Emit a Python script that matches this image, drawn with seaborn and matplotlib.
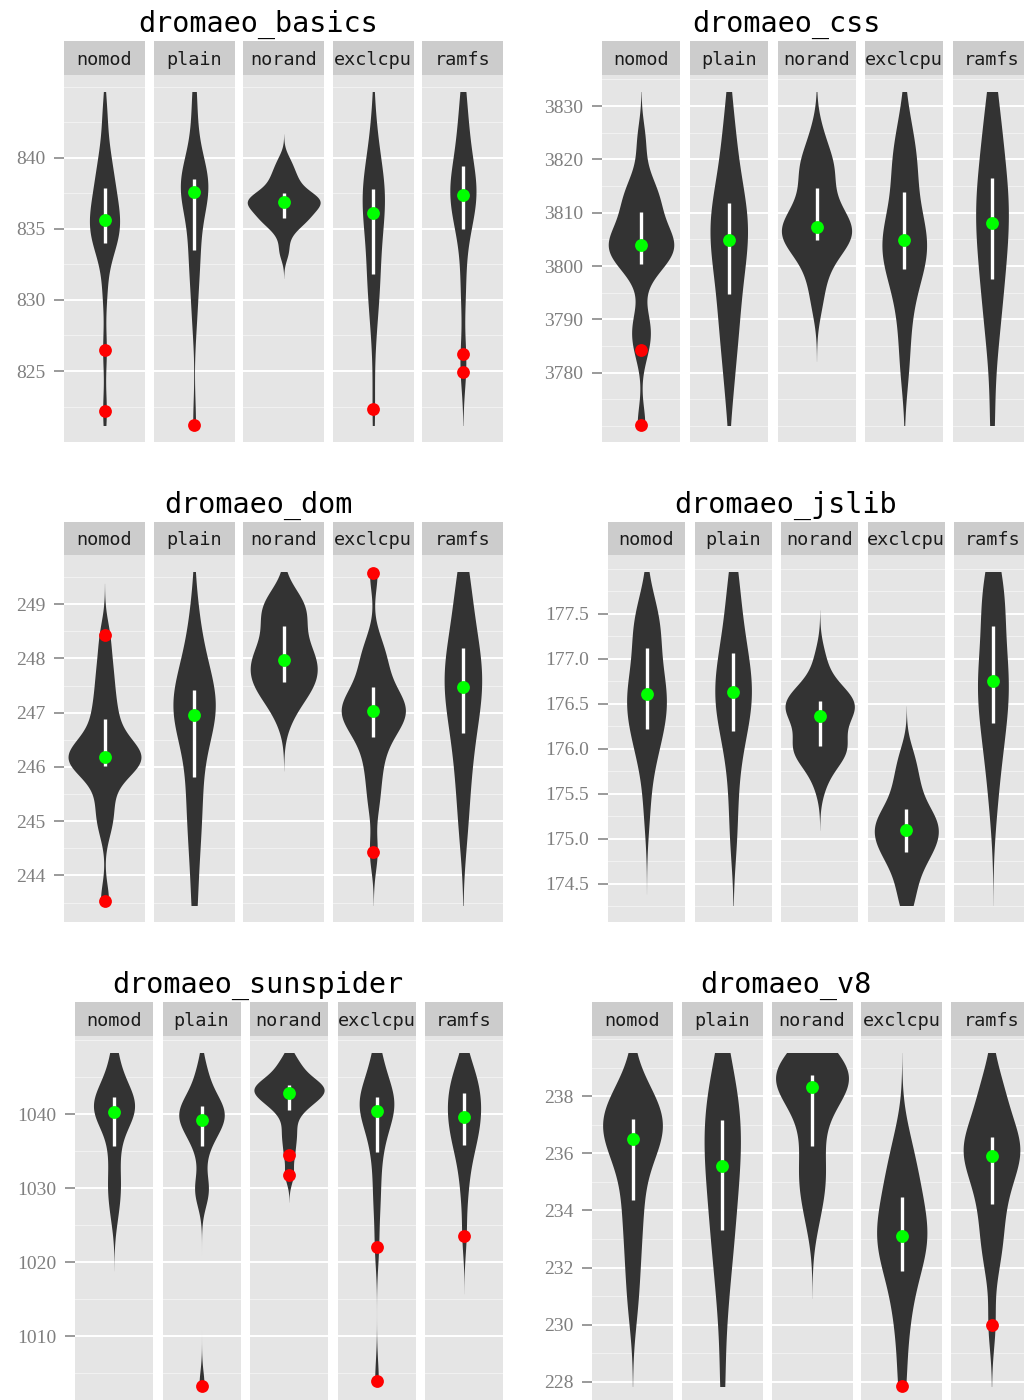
"""
Dromaeo benchmark spread per kernel configuration: one violin chart per
benchmark, faceted by configuration, drawn in a ggplot-like grey style.
"""

import numpy as np
import pandas as pd
import matplotlib
matplotlib.use("Agg")
import matplotlib.pyplot as plt
from matplotlib.ticker import FixedLocator, FormatStrFormatter, MultipleLocator
from matplotlib.transforms import Bbox, TransformedBbox
import seaborn as sns

configs = ["nomod", "plain", "norand", "exclcpu", "ramfs"]

# ── per-run scores ──────────────────────────────────────────────────────
basics = {
    "nomod":   [822.16, 826.46, 830.5, 832.8, 833.8, 834.1, 834.5, 834.9, 835.25, 835.5,
                835.8, 836.3, 836.8, 837.3, 837.7, 838.5, 839.0, 839.8, 841.0, 843.2],
    "plain":   [821.2, 828.5, 830.5, 832.0, 833.2, 833.6, 835.0, 836.3, 836.9, 837.3,
                837.84, 838.0, 838.2, 838.3, 838.4, 838.8, 839.3, 840.5, 842.5, 844.65],
    "norand":  [833.4, 834.6, 835.3, 835.6, 835.7, 835.83, 836.2, 836.5, 836.7, 836.8,
                836.96, 837.0, 837.1, 837.2, 837.4, 837.8, 838.2, 838.6, 839.1, 839.8],
    "exclcpu": [822.3, 827.5, 829.5, 830.6, 831.4, 831.93, 833.0, 834.2, 835.0, 835.8,
                836.4, 836.8, 837.1, 837.4, 837.7, 838.2, 838.8, 839.5, 840.6, 842.5],
    "ramfs":   [824.9, 826.2, 830.0, 832.3, 834.3, 835.23, 835.8, 836.4, 836.9, 837.2,
                837.6, 838.0, 838.4, 838.9, 839.2, 840.2, 840.9, 841.8, 843.0, 844.65],
}
css = {
    "nomod":   [3770.2, 3784.3, 3787.5, 3790.0, 3798.5, 3801.1, 3801.8, 3802.5, 3803.2, 3803.6,
                3804.2, 3805.0, 3806.2, 3807.5, 3809.6, 3811.8, 3812.6, 3813.8, 3816.5, 3823.5],
    "plain":   [3776.0, 3782.5, 3786.5, 3789.5, 3792.5, 3795.5, 3798.0, 3800.5, 3802.5, 3804.0,
                3805.6, 3807.0, 3808.5, 3810.0, 3811.2, 3813.5, 3816.0, 3819.5, 3823.5, 3829.0],
    "norand":  [3793.0, 3797.5, 3800.5, 3802.8, 3804.3, 3804.97, 3805.5, 3806.2, 3806.8, 3807.1,
                3807.7, 3809.0, 3810.5, 3812.0, 3813.8, 3817.0, 3818.0, 3819.2, 3821.0, 3825.0],
    "exclcpu": [3780.0, 3786.0, 3791.5, 3795.0, 3798.0, 3799.9, 3801.0, 3802.3, 3803.5, 3804.3,
                3805.3, 3806.8, 3808.5, 3810.5, 3812.8, 3817.0, 3818.5, 3820.5, 3823.0, 3827.5],
    "ramfs":   [3770.4, 3783.0, 3789.0, 3791.5, 3795.5, 3798.2, 3800.5, 3803.0, 3805.0, 3807.0,
                3809.2, 3811.0, 3812.5, 3814.0, 3815.5, 3819.5, 3821.5, 3824.5, 3828.0, 3832.7],
}
dom = {
    "nomod":   [243.53, 244.9, 245.2, 245.55, 245.95, 246.05, 246.08, 246.12, 246.15, 246.17,
                246.21, 246.3, 246.42, 246.55, 246.85, 247.0, 247.3, 247.6, 247.95, 248.43],
    "plain":   [243.45, 244.3, 244.8, 245.2, 245.6, 245.88, 246.4, 246.65, 246.8, 246.9,
                247.0, 247.1, 247.2, 247.28, 247.36, 247.56, 247.75, 248.0, 248.3, 248.9],
    "norand":  [246.9, 247.2, 247.35, 247.45, 247.52, 247.57, 247.7, 247.82, 247.9, 247.95,
                248.01, 248.1, 248.25, 248.4, 248.55, 248.75, 248.85, 248.95, 249.05, 249.15],
    "exclcpu": [244.43, 245.3, 245.75, 246.1, 246.4, 246.6, 246.75, 246.85, 246.95, 247.0,
                247.06, 247.12, 247.2, 247.3, 247.4, 247.68, 247.85, 248.05, 248.3, 249.58],
    "ramfs":   [244.7, 245.3, 245.75, 246.1, 246.45, 246.69, 246.9, 247.1, 247.3, 247.4,
                247.54, 247.7, 247.85, 248.0, 248.15, 248.35, 248.6, 248.9, 249.25, 249.6],
}
jslib = {
    "nomod":   [175.3, 175.75, 175.95, 176.1, 176.2, 176.23, 176.38, 176.46, 176.52, 176.58,
                176.64, 176.7, 176.8, 176.92, 177.08, 177.25, 177.3, 177.4, 177.5, 177.62],
    "plain":   [174.95, 175.35, 175.7, 175.95, 176.15, 176.22, 176.35, 176.45, 176.53, 176.6,
                176.66, 176.75, 176.85, 176.95, 177.04, 177.16, 177.3, 177.5, 177.7, 177.97],
    "norand":  [175.62, 175.85, 175.9, 175.94, 175.98, 176.05, 176.08, 176.12, 176.28, 176.33,
                176.39, 176.44, 176.47, 176.5, 176.52, 176.56, 176.6, 176.66, 176.78, 177.02],
    "exclcpu": [174.26, 174.45, 174.6, 174.72, 174.8, 174.87, 174.92, 174.97, 175.02, 175.07,
                175.13, 175.17, 175.21, 175.26, 175.3, 175.42, 175.52, 175.64, 175.78, 175.95],
    "ramfs":   [175.3, 175.65, 175.9, 176.05, 176.2, 176.31, 176.45, 176.58, 176.68, 176.72,
                176.78, 176.9, 177.05, 177.2, 177.32, 177.52, 177.65, 177.75, 177.85, 177.97],
}
sunspider = {
    "nomod":   [1026.2, 1028.8, 1030.2, 1031.8, 1034.5, 1036.1, 1038.6, 1039.3, 1039.8, 1040.1,
                1040.5, 1040.9, 1041.3, 1041.7, 1042.2, 1042.8, 1043.4, 1044.3, 1045.8, 1048.34],
    "plain":   [1003.28, 1028.5, 1029.8, 1031.0, 1034.2, 1036.3, 1037.0, 1037.8, 1038.5, 1038.9,
                1039.5, 1039.9, 1040.3, 1040.6, 1040.9, 1041.6, 1042.3, 1043.2, 1044.5, 1046.5],
    "norand":  [1031.85, 1034.55, 1036.5, 1038.0, 1039.8, 1040.9, 1041.4, 1041.9, 1042.3, 1042.75,
                1043.0, 1043.3, 1043.55, 1043.75, 1043.9, 1044.3, 1044.9, 1045.6, 1046.4, 1047.6],
    "exclcpu": [1003.96, 1021.99, 1027.0, 1030.0, 1033.0, 1035.5, 1037.0, 1038.3, 1039.3, 1040.0,
                1040.9, 1041.2, 1041.6, 1041.9, 1042.2, 1042.9, 1043.8, 1045.0, 1046.5, 1048.34],
    "ramfs":   [1023.55, 1028.5, 1031.5, 1033.5, 1035.3, 1035.98, 1037.0, 1037.8, 1038.6, 1039.3,
                1040.0, 1040.7, 1041.4, 1042.0, 1042.6, 1043.7, 1044.3, 1045.0, 1045.9, 1047.5],
}
v8 = {
    "nomod":   [230.5, 231.6, 232.5, 233.3, 234.0, 234.5, 235.2, 235.9, 236.2, 236.4,
                236.62, 236.8, 236.95, 237.05, 237.15, 237.4, 237.5, 237.7, 238.0, 238.4],
    "plain":   [227.9, 230.3, 231.5, 232.3, 233.0, 233.4, 233.9, 234.5, 235.0, 235.35,
                235.75, 236.1, 236.45, 236.75, 237.0, 237.6, 237.85, 238.2, 238.6, 239.3],
    "norand":  [233.6, 234.4, 234.9, 235.3, 235.7, 236.42, 237.0, 237.6, 238.0, 238.2,
                238.44, 238.55, 238.62, 238.67, 238.7, 238.8, 238.95, 239.15, 239.35, 239.52],
    "exclcpu": [227.86, 229.3, 230.3, 231.0, 231.5, 232.0, 232.28, 232.56, 232.84, 233.0,
                233.24, 233.5, 233.78, 234.06, 234.34, 234.8, 235.1, 235.5, 236.0, 236.7],
    "ramfs":   [230.0, 231.9, 232.7, 233.2, 233.75, 234.38, 234.85, 235.0, 235.5, 235.7,
                236.08, 236.2, 236.28, 236.34, 236.37, 237.1, 237.35, 237.7, 238.2, 238.8],
}

benchmarks = ["dromaeo_basics", "dromaeo_css", "dromaeo_dom",
              "dromaeo_jslib", "dromaeo_sunspider", "dromaeo_v8"]
samples = [basics, css, dom, jslib, sunspider, v8]
yticks = [
    [825, 830, 835, 840],
    [3780, 3790, 3800, 3810, 3820, 3830],
    [244, 245, 246, 247, 248, 249],
    [174.5, 175.0, 175.5, 176.0, 176.5, 177.0, 177.5],
    [1010, 1020, 1030, 1040],
    [228, 230, 232, 234, 236, 238],
]
tick_fmt = ["%d", "%d", "%d", "%.1f", "%d", "%d"]

# ── layout, in output pixels ────────────────────────────────────────────
W, H = 1024, 1400
# first panel left edge, panel width, panel pitch
cols = [(64, 81, 89.6), (602, 78, 87.75), (64, 81, 89.6),
        (608, 77, 86.6), (75, 78, 87.5), (592, 81, 89.75)]
# strip top, panel top, panel bottom
rows = [(41, 75, 441.7), (522, 555, 922), (1002, 1036, 1402.5)]
title_x = [258, 786]

PANEL = "#E5E5E5"
STRIP = "#CCCCCC"
VIOLIN = "#333333"
GREY50 = "#7F7F7F"
MONO = "DejaVu Sans Mono"

plt.rcParams["font.family"] = ["Liberation Serif", "DejaVu Serif"]


def nrd0(kde):
    """R's default bandwidth (bw.nrd0), expressed as a gaussian_kde factor."""
    x = kde.dataset.ravel()
    sd = x.std(ddof=1)
    q1, q3 = np.percentile(x, [25, 75])
    lo = min(sd, (q3 - q1) / 1.34)
    return 0.9 * lo * len(x) ** -0.2 / sd


def px_axes(fig, left, top, width, height):
    return fig.add_axes([left / W, 1 - (top + height) / H, width / W, height / H])


fig = plt.figure(figsize=(W / 100, H / 100), dpi=100)

for k, (name, data) in enumerate(zip(benchmarks, samples)):
    row, col = divmod(k, 2)
    strip_top, panel_top, panel_bottom = rows[row]
    x0, pw, pitch = cols[k]

    df = pd.DataFrame([(i, v) for i, c in enumerate(configs) for v in data[c]],
                      columns=["pos", "value"])
    lo, hi = df["value"].min(), df["value"].max()
    pad = 0.05 * (hi - lo)
    step = yticks[k][1] - yticks[k][0]

    fig.text(title_x[col] / W, 1 - (strip_top - 9.5) / H, name, ha="center",
             va="baseline", family=MONO, fontsize=20.5, color="black")

    for i, cfg in enumerate(configs):
        ax = px_axes(fig, x0 + i * pitch, panel_top, pw, panel_bottom - panel_top)
        ax.set_facecolor(PANEL)

        # every violin goes on every facet so the area scaling is shared;
        # the x limits then keep only this facet's violin in view
        sns.violinplot(data=df, x="pos", y="value", native_scale=True, orient="x",
                       color=VIOLIN, saturation=1, linewidth=0, inner=None,
                       cut=3, gridsize=400, bw_method=nrd0, density_norm="area",
                       width=0.9, ax=ax)
        # densities are drawn over the chart's data range only
        clip = TransformedBbox(Bbox([[i - 0.5, lo], [i + 0.5, hi]]), ax.transData)
        for coll in ax.collections:
            coll.set_clip_box(clip)

        vals = np.asarray(data[cfg])
        q1, med, q3 = np.percentile(vals, [25, 50, 75])
        iqr = q3 - q1
        out = vals[(vals < q1 - 1.5 * iqr) | (vals > q3 + 1.5 * iqr)]

        ax.vlines(i, q1, q3, color="white", linewidth=2.4, zorder=3)
        sns.scatterplot(x=[i], y=[med], color="#00FF00", s=85, linewidth=0,
                        zorder=4, ax=ax)
        if len(out):
            sns.scatterplot(x=[i] * len(out), y=out, color="#FF0000", s=85,
                            linewidth=0, zorder=4, ax=ax)

        ax.set_xlim(i - 0.5, i + 0.5)
        ax.set_ylim(lo - pad, hi + pad)
        ax.set_xticks([])
        ax.set_xlabel("")
        ax.set_ylabel("")
        ax.yaxis.set_major_locator(FixedLocator(yticks[k]))
        ax.yaxis.set_minor_locator(MultipleLocator(step / 2))
        ax.yaxis.set_major_formatter(FormatStrFormatter(tick_fmt[k]))
        ax.set_axisbelow(True)
        ax.grid(False)
        ax.grid(which="major", axis="y", color="white", linewidth=1.4)
        ax.grid(which="minor", axis="y", color="#F2F2F2", linewidth=0.7)
        for s in ax.spines.values():
            s.set_visible(False)
        ax.tick_params(axis="y", which="minor", left=False)
        if i == 0:
            ax.tick_params(axis="y", which="major", length=7.5, width=1.1,
                           color=GREY50, labelcolor=GREY50, labelsize=14, pad=6)
        else:
            ax.tick_params(axis="y", which="major", left=False, labelleft=False)

        sax = px_axes(fig, x0 + i * pitch, strip_top, pw, panel_top - strip_top)
        sax.set_facecolor(STRIP)
        sax.set_xticks([])
        sax.set_yticks([])
        for s in sax.spines.values():
            s.set_visible(False)
        sax.text(0.5, 0.45, cfg, ha="center", va="center", family=MONO,
                 fontsize=13.3, color="#1A1A1A", transform=sax.transAxes)

fig.savefig("out.png", dpi=100)
